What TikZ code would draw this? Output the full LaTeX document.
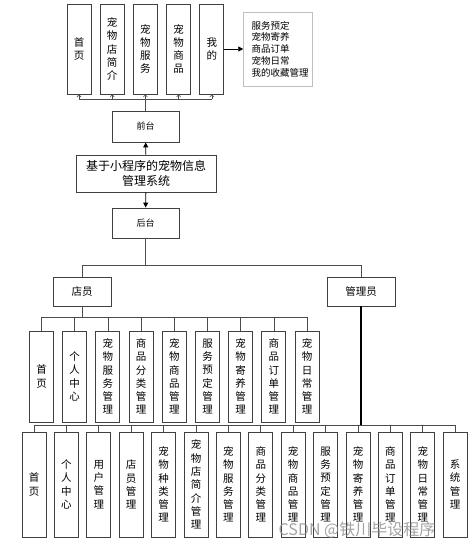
\documentclass[tikz,border=0pt]{standalone}
\usepackage{fontspec}
\newfontfamily\cjk{Noto Sans CJK SC}
\usepackage{tikz}
\usetikzlibrary{arrows.meta,positioning}
\usepackage{xcolor}

\begin{document}
\begin{tikzpicture}[
    x=1pt, y=-1pt,
    vbox/.style={
        rectangle,
        draw=black!75,
        line width=0.9pt,
        minimum width=24pt,
        align=center,
        inner sep=0pt,
        font=\cjk\fontsize{10.5}{13.3}\selectfont
    },
    hbox/.style={
        rectangle,
        draw=black!75,
        line width=0.9pt,
        align=center,
        inner sep=1pt,
        font=\cjk\fontsize{10.5}{14}\selectfont
    },
    listbox/.style={
        rectangle,
        draw=black!25,
        line width=0.9pt,
        align=left,
        inner sep=0pt,
        minimum width=69pt,
        minimum height=74pt,
        font=\cjk\fontsize{9.5}{11.7}\selectfont
    },
    link/.style={
        draw=black!70,
        line width=0.8pt
    },
    arrow/.style={
        -{Triangle[length=5pt,width=5pt]},
        line width=0.9pt,
        draw=black
    },
    uparrow/.style={
        -{Straight Barb[length=2pt,width=4pt]},
        line width=0.6pt,
        draw=black!70
    },
    watermark/.style={
        font=\cjk\fontsize{16}{18}\selectfont,
        text=black!45,
        opacity=0.8
    }
]
    \useasboundingbox (0,0) rectangle (468,548);

    % Front end
    \node (t1) [vbox, minimum height=90pt] at (79,49) {首\\页};
    \node (t2) [vbox, minimum height=90pt, right=8.3pt of t1] {宠\\物\\店\\简\\介};
    \node (t3) [vbox, minimum height=90pt, right=8.3pt of t2] {宠\\物\\服\\务};
    \node (t4) [vbox, minimum height=90pt, right=8.3pt of t3] {宠\\物\\商\\品};
    \node (t5) [vbox, minimum height=90pt, right=8.3pt of t4] {我\\的};
    \node (mine) [listbox, right=19pt of t5]
        {\hspace*{4pt}服务预定\\\hspace*{4pt}宠物寄养\\\hspace*{4pt}商品订单\\\hspace*{4pt}宠物日常\\\hspace*{4pt}我的收藏管理};

    \node (front) [hbox, minimum width=67pt, minimum height=31pt,
        font=\cjk\fontsize{9}{11}\selectfont] at (145.5,126.5) {前台};
    \node (sys) [hbox, minimum width=140pt, minimum height=37pt,
        font=\cjk\fontsize{12}{14.5}\selectfont] at (146,173.5)
        {基于小程序的宠物信息\\管理系统};
    \node (back) [hbox, minimum width=67pt, minimum height=30pt,
        font=\cjk\fontsize{9}{11}\selectfont] at (145.5,223) {后台};

    % Roles
    \node (staff) [hbox, minimum width=58pt, minimum height=29pt] at (82,291.5) {店员};
    \node (admin) [hbox, minimum width=68pt, minimum height=29pt] at (361,291.5) {管理员};

    % Staff functions
    \node (s1) [vbox, minimum height=91pt] at (41.5,376.5) {首\\页};
    \node (s2) [vbox, minimum height=91pt, right=8.3pt of s1] {个\\人\\中\\心};
    \node (s3) [vbox, minimum height=91pt, right=8.3pt of s2] {宠\\物\\服\\务\\管\\理};
    \node (s4) [vbox, minimum height=91pt, right=8.3pt of s3] {商\\品\\分\\类\\管\\理};
    \node (s5) [vbox, minimum height=91pt, right=8.3pt of s4] {宠\\物\\商\\品\\管\\理};
    \node (s6) [vbox, minimum height=91pt, right=8.3pt of s5] {服\\务\\预\\定\\管\\理};
    \node (s7) [vbox, minimum height=91pt, right=8.3pt of s6] {宠\\物\\寄\\养\\管\\理};
    \node (s8) [vbox, minimum height=91pt, right=8.3pt of s7] {商\\品\\订\\单\\管\\理};
    \node (s9) [vbox, minimum height=91pt, right=8.3pt of s8] {宠\\物\\日\\常\\管\\理};

    % Admin functions
    \node (a1)  [vbox, minimum height=105pt] at (34,484.5) {首\\页};
    \node (a2)  [vbox, minimum height=105pt, right=7.5pt of a1]  {个\\人\\中\\心};
    \node (a3)  [vbox, minimum height=105pt, right=7.5pt of a2]  {用\\户\\管\\理};
    \node (a4)  [vbox, minimum height=105pt, right=7.5pt of a3]  {店\\员\\管\\理};
    \node (a5)  [vbox, minimum height=105pt, right=7.5pt of a4]  {宠\\物\\种\\类\\管\\理};
    \node (a6)  [vbox, minimum height=105pt, right=7.5pt of a5]  {宠\\物\\店\\简\\介\\管\\理};
    \node (a7)  [vbox, minimum height=105pt, right=7.5pt of a6]  {宠\\物\\服\\务\\管\\理};
    \node (a8)  [vbox, minimum height=105pt, right=7.5pt of a7]  {商\\品\\分\\类\\管\\理};
    \node (a9)  [vbox, minimum height=105pt, right=7.5pt of a8]  {宠\\物\\商\\品\\管\\理};
    \node (a10) [vbox, minimum height=105pt, right=7.5pt of a9]  {服\\务\\预\\定\\管\\理};
    \node (a11) [vbox, minimum height=105pt, right=7.5pt of a10] {宠\\物\\寄\\养\\管\\理};
    \node (a12) [vbox, minimum height=105pt, right=7.5pt of a11] {商\\品\\订\\单\\管\\理};
    \node (a13) [vbox, minimum height=105pt, right=7.5pt of a12] {宠\\物\\日\\常\\管\\理};
    \node (a14) [vbox, minimum height=105pt, right=7.5pt of a13] {系\\统\\管\\理};

    \node (mark) [watermark] at (357,530) {CSDN @铁川毕设程序};

    % Bus lines
    \coordinate (topbus)   at (145.5,99);
    \coordinate (rolebus)  at (145.5,265);
    \coordinate (staffbus) at (82,317);
    \coordinate (adminbus) at (361,425);

    % Arrows
    \draw [arrow] (sys) -- (front);
    \draw [arrow] (sys) -- (back);
    \draw [arrow] (t5)  -- (mine);

    \draw [link] (front.north) -- (topbus);
    \draw [link] (t1.south |- topbus) -- (t5.south |- topbus);
    \draw [uparrow] (t1.south |- topbus) -- (t1.south);
    \draw [uparrow] (t2.south |- topbus) -- (t2.south);
    \draw [uparrow] (t3.south |- topbus) -- (t3.south);
    \draw [uparrow] (t4.south |- topbus) -- (t4.south);
    \draw [uparrow] (t5.south |- topbus) -- (t5.south);

    \draw [link] (back.south) -- (rolebus);
    \draw [link] (staff.north |- rolebus) -- (admin.north |- rolebus);
    \draw [link] (staff.north |- rolebus) -- (staff.north);
    \draw [link] (admin.north |- rolebus) -- (admin.north);

    \draw [link] (staff.south) -- (staffbus);
    \draw [link] (s1.north |- staffbus) -- (s9.north |- staffbus);
    \draw [link] (s1.north |- staffbus) -- (s1.north);
    \draw [link] (s2.north |- staffbus) -- (s2.north);
    \draw [link] (s3.north |- staffbus) -- (s3.north);
    \draw [link] (s4.north |- staffbus) -- (s4.north);
    \draw [link] (s5.north |- staffbus) -- (s5.north);
    \draw [link] (s6.north |- staffbus) -- (s6.north);
    \draw [link] (s7.north |- staffbus) -- (s7.north);
    \draw [link] (s8.north |- staffbus) -- (s8.north);
    \draw [link] (s9.north |- staffbus) -- (s9.north);

    \draw [link, draw=black, line width=1.2pt] (admin.south) -- (adminbus);
    \draw [link] (a1.north |- adminbus) -- (a14.north |- adminbus);
    \draw [link] (a1.north |- adminbus)  -- (a1.north);
    \draw [link] (a2.north |- adminbus)  -- (a2.north);
    \draw [link] (a3.north |- adminbus)  -- (a3.north);
    \draw [link] (a4.north |- adminbus)  -- (a4.north);
    \draw [link] (a5.north |- adminbus)  -- (a5.north);
    \draw [link] (a6.north |- adminbus)  -- (a6.north);
    \draw [link] (a7.north |- adminbus)  -- (a7.north);
    \draw [link] (a8.north |- adminbus)  -- (a8.north);
    \draw [link] (a9.north |- adminbus)  -- (a9.north);
    \draw [link] (a10.north |- adminbus) -- (a10.north);
    \draw [link] (a11.north |- adminbus) -- (a11.north);
    \draw [link] (a12.north |- adminbus) -- (a12.north);
    \draw [link] (a13.north |- adminbus) -- (a13.north);
    \draw [link] (a14.north |- adminbus) -- (a14.north);

\end{tikzpicture}
\end{document}
